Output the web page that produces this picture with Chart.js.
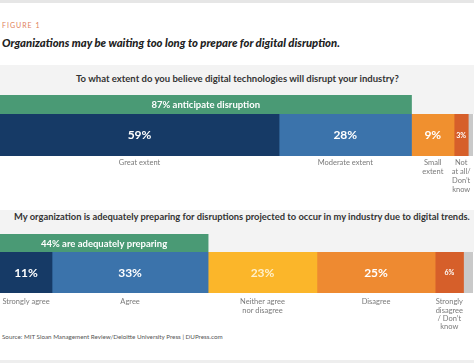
<!DOCTYPE html>
<html>
<head>
<meta charset="utf-8">
<script src="https://cdn.jsdelivr.net/npm/chart.js@4/dist/chart.umd.min.js"></script>
<style>
  html,body{margin:0;padding:0;background:#fff;width:474px;height:363px;overflow:hidden;font-family:Lato,"Open Sans",sans-serif;}
  .abs{position:absolute;}
  #topline{left:0;top:0;width:474px;height:3px;background:#e6e6e6;}
  #botline{left:0;top:360px;width:474px;height:3px;background:#eeeeee;}
  #fig{left:2px;top:20px;font-size:7px;letter-spacing:1px;color:#e0805a;line-height:10px;}
  #title{left:2px;top:36px;font-size:10.5px;font-weight:900;font-style:italic;color:#222;line-height:14px;white-space:nowrap;}
  .panel{left:0;width:474px;background:#f3f3f3;}
  .q{font-size:9.5px;font-weight:700;color:#333;white-space:nowrap;line-height:12px;}
  #src{left:2px;top:332px;font-size:6.5px;color:#555;line-height:10px;white-space:nowrap;}
  canvas{position:absolute;left:0;}
</style>
</head>
<body>
<div class="abs" id="topline"></div>
<div class="abs" id="fig">FIGURE 1</div>
<div class="abs" id="title" data-w="338">Organizations may be waiting too long to prepare for digital disruption.</div>

<div class="abs panel" style="top:65px;height:49px;"></div>
<div class="abs q" id="q1" data-w="323" style="top:73px;left:76px;">To what extent do you believe digital technologies will disrupt your industry?</div>

<div class="abs panel" style="top:210px;height:42px;"></div>
<div class="abs q" id="q2" data-w="456" style="top:211px;left:14px;">My organization is adequately preparing for disruptions projected to occur in my industry due to digital trends.</div>

<canvas id="g1" width="473" height="19" style="top:95px;"></canvas>
<canvas id="m1" width="473" height="85" style="top:114px;"></canvas>
<canvas id="g2" width="473" height="18" style="top:234px;"></canvas>
<canvas id="m2" width="473" height="80" style="top:252px;"></canvas>

<div class="abs" id="src" data-w="221">Source: MIT Sloan Management Review/Deloitte University Press | DUPress.com</div>
<div class="abs" id="botline"></div>

<script>
// ---------- DATA ----------
const q1Categories = [['Great extent'], ['Moderate extent'], ['Small', 'extent'], ['Not', 'at all/', 'Don\u2019t', 'know'], []];
const q1Values = [59, 28, 9, 3, 1];
const q1Summary = [87];
const q1SummaryText = '87% anticipate disruption';

const q2Categories = [['Strongly agree'], ['Agree'], ['Neither agree', 'nor disagree'], ['Disagree'], ['Strongly', 'disagree', '/ Don\u2019t', 'know'], []];
const q2Values = [11, 33, 23, 25, 6, 2];
const q2Summary = [44];
const q2SummaryText = '44% are adequately preparing';

// ---------- STYLES ----------
const q1Colors = ['#163a66', '#3b73ab', '#f0902f', '#d65f2a', '#c9c9c9'];
const q2Colors = ['#163a66', '#3b73ab', '#fbb62a', '#ee8a31', '#d65f2a', '#c9c9c9'];
const greenColor = '#4a9a75';
const FONT = 'Lato, "Open Sans", sans-serif';

// fit header texts to the widths seen in the reference
document.querySelectorAll('[data-w]').forEach(el => {
  const target = parseFloat(el.dataset.w);
  const fs = parseFloat(getComputedStyle(el).fontSize);
  const w = el.getBoundingClientRect().width;
  el.style.fontSize = (fs * target / w).toFixed(2) + 'px';
});

const segPlugin = {
  id: 'segText',
  afterDatasetsDraw(chart) {
    const o = chart.options.plugins.segText || {};
    const ctx = chart.ctx;
    ctx.save();
    ctx.textAlign = 'center';
    ctx.textBaseline = 'middle';
    chart.data.datasets.forEach((ds, i) => {
      const el = chart.getDatasetMeta(i).data[0];
      if (!el) return;
      const p = el.getProps(['x', 'y', 'base'], true);
      const left = Math.min(p.x, p.base), right = Math.max(p.x, p.base);
      const cx = (left + right) / 2;
      const w = right - left;
      const txt = ds.valueText;
      if (txt) {
        const small = w < 32;
        ctx.font = '700 ' + (o.valueSize ? o.valueSize : (small ? 7 : 12)) + 'px ' + FONT;
        ctx.fillStyle = ds.valueColor || '#ffffff';
        ctx.fillText(txt, cx, p.y + 0.5);
      }
      const lines = ds.catLines || [];
      ctx.font = '400 7.5px ' + FONT;
      ctx.fillStyle = '#7a7a7a';
      lines.forEach((ln, k) => {
        ctx.fillText(ln, cx, chart.chartArea.bottom + o.firstOffset + k * o.lineGap);
      });
    });
    ctx.restore();
  }
};

function baseOptions(padB, plug) {
  return {
    indexAxis: 'y',
    responsive: false,
    animation: false,
    devicePixelRatio: 1,
    layout: { padding: { top: 0, bottom: padB, left: 0, right: 0 } },
    scales: {
      x: { stacked: true, display: false, min: 0, max: 100 },
      y: { stacked: true, display: false }
    },
    plugins: { legend: { display: false }, tooltip: { enabled: false }, segText: plug }
  };
}

function mainChart(id, values, colors, cats, padB, firstOffset, lineGap) {
  return new Chart(document.getElementById(id), {
    type: 'bar',
    data: {
      labels: ['all'],
      datasets: values.map((v, i) => ({
        data: [v],
        backgroundColor: colors[i],
        borderWidth: 0,
        barPercentage: 1,
        categoryPercentage: 1,
        valueText: cats[i].length ? v + '%' : '',
        valueColor: colors[i] === '#fbb62a' ? '#fff1cc' : '#ffffff',
        catLines: cats[i]
      }))
    },
    options: baseOptions(padB, { firstOffset, lineGap }),
    plugins: [segPlugin]
  });
}

function summaryChart(id, values, text) {
  return new Chart(document.getElementById(id), {
    type: 'bar',
    data: {
      labels: ['all'],
      datasets: [{
        data: values,
        backgroundColor: greenColor,
        borderWidth: 0,
        barPercentage: 1,
        categoryPercentage: 1,
        valueText: text,
        catLines: []
      }]
    },
    options: baseOptions(0, { valueSize: 9.5, firstOffset: 0, lineGap: 0 }),
    plugins: [segPlugin]
  });
}

summaryChart('g1', q1Summary, q1SummaryText);
mainChart('m1', q1Values, q1Colors, q1Categories, 43, 7, 9);
summaryChart('g2', q2Summary, q2SummaryText);
mainChart('m2', q2Values, q2Colors, q2Categories, 39, 9, 8.2);
</script>
</body>
</html>
